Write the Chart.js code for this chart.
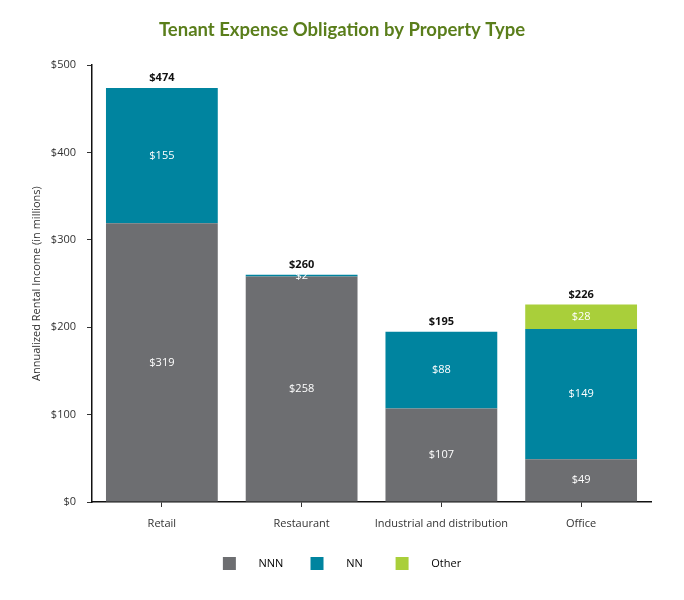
<!DOCTYPE html>
<html>
<head>
<meta charset="utf-8">
<script src="https://cdn.jsdelivr.net/npm/chart.js@4/dist/chart.umd.min.js"></script>
<style>
  html, body { margin: 0; padding: 0; background: #fff; }
  #wrap { width: 684px; height: 600px; }
</style>
</head>
<body>
<div id="wrap"><canvas id="grafico"></canvas></div>
<script>
const categorias = ['Retail', 'Restaurant', 'Industrial and distribution', 'Office'];
const valoresNNN = [319, 258, 107, 49];
const valoresNN = [155, 2, 88, 149];
const valoresOther = [0, 0, 0, 28];
const totais = [474, 260, 195, 226];
const ticksY = [0, 100, 200, 300, 400, 500];

const fonte = '"Open Sans", "DejaVu Sans", sans-serif';

// rótulos dentro das barras e totais acima
const rotulosPlugin = {
    id: 'rotulos',
    afterDatasetsDraw(chart) {
        const ctx = chart.ctx;
        ctx.save();
        ctx.textAlign = 'center';
        ctx.textBaseline = 'middle';
        ctx.font = '11px ' + fonte;
        ctx.fillStyle = '#ffffff';
        chart.data.datasets.forEach((ds, i) => {
            const meta = chart.getDatasetMeta(i);
            meta.data.forEach((bar, j) => {
                const v = ds.data[j];
                if (!v) return;
                ctx.fillText('$' + v, bar.x, (bar.y + bar.base) / 2);
            });
        });
        const y = chart.scales.y;
        const meta0 = chart.getDatasetMeta(0);
        ctx.font = 'bold 11px ' + fonte;
        ctx.fillStyle = '#111111';
        totais.forEach((t, j) => {
            ctx.fillText('$' + t, meta0.data[j].x, y.getPixelForValue(t) - 10);
        });
        ctx.restore();
    }
};

// espaços para afastar o texto do quadrado da legenda
const textoLegenda = { NNN: '      NNN      ', NN: '      NN        ', Other: '      Other' };

new Chart(document.getElementById('grafico'), {
    type: 'bar',
    data: {
        labels: categorias,
        datasets: [
            { label: 'NNN', data: valoresNNN, backgroundColor: '#6d6e71' },
            { label: 'NN', data: valoresNN, backgroundColor: '#00849f' },
            { label: 'Other', data: valoresOther, backgroundColor: '#a9cf3a' }
        ]
    },
    options: {
        responsive: true,
        maintainAspectRatio: false,
        animation: false,
        datasets: { bar: { barPercentage: 0.8, categoryPercentage: 1.0, borderWidth: 0 } },
        layout: { padding: { left: 0, right: 0, top: 0, bottom: 20 } },
        scales: {
            x: {
                stacked: true,
                afterFit: (s) => { s.height = 45; },
                grid: { display: true, drawOnChartArea: false, drawTicks: true, tickLength: 5, offset: false, color: '#333' },
                border: { display: true, color: '#111', width: 1.5 },
                ticks: { color: '#333', font: { size: 11, family: fonte }, padding: 10, maxRotation: 0 }
            },
            y: {
                stacked: true,
                min: 0,
                max: 500,
                afterFit: (s) => { s.width = 92; },
                afterBuildTicks: (s) => { s.ticks = ticksY.map(v => ({ value: v })); },
                grid: { display: true, drawOnChartArea: false, drawTicks: true, tickLength: 5, color: '#333' },
                border: { display: true, color: '#111', width: 1.5 },
                ticks: { color: '#333', font: { size: 11, family: fonte }, padding: 11, callback: (v) => '$' + v },
                title: {
                    display: true,
                    text: 'Annualized Rental Income (in millions)',
                    color: '#333',
                    font: { size: 11, family: fonte },
                    padding: { top: 30, bottom: 6 }
                }
            },
            // eixo vazio só para reservar a margem direita
            margem: {
                position: 'right',
                display: true,
                afterFit: (s) => { s.width = 33; },
                grid: { display: false },
                border: { display: false },
                ticks: { display: false }
            }
        },
        plugins: {
            title: {
                display: true,
                text: 'Tenant Expense Obligation by Property Type',
                color: '#5a7e1b',
                font: { size: 18.5, weight: 'bold', family: 'Lato, "Open Sans", sans-serif' },
                padding: { top: 19, bottom: 24 }
            },
            legend: {
                position: 'bottom',
                labels: {
                    boxWidth: 13,
                    boxHeight: 13,
                    padding: 10,
                    color: '#333',
                    font: { size: 11, family: fonte },
                    generateLabels: (chart) => chart.data.datasets.map((ds, i) => ({
                        text: textoLegenda[ds.label],
                        fillStyle: ds.backgroundColor,
                        strokeStyle: ds.backgroundColor,
                        lineWidth: 0,
                        datasetIndex: i
                    }))
                }
            },
            tooltip: { enabled: false }
        }
    },
    plugins: [rotulosPlugin]
});
</script>
</body>
</html>
